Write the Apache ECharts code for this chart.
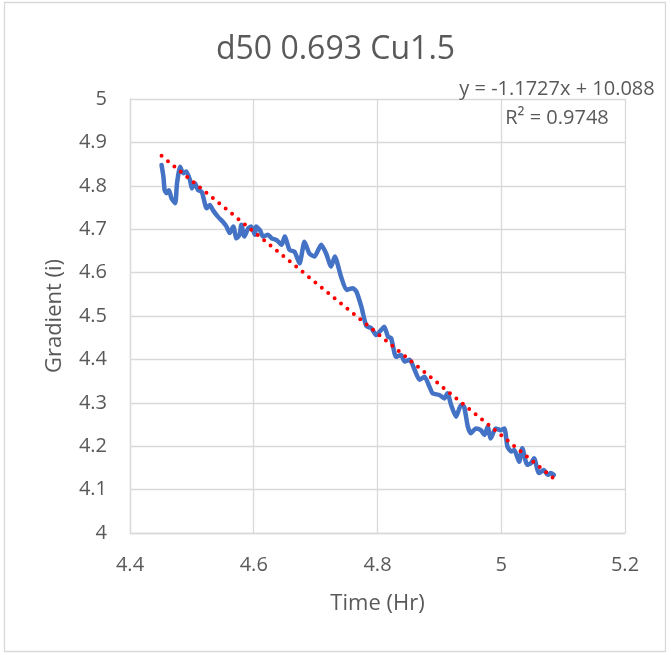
<!DOCTYPE html>
<html>
<head>
<meta charset="utf-8">
<script src="https://cdn.jsdelivr.net/npm/echarts@6/dist/echarts.min.js"></script>
<style>
html,body{margin:0;padding:0;background:#fff;}
#chart{width:671px;height:655px;}
</style>
</head>
<body>
<div id="chart"></div>
<script>
const chartTitle = 'd50 0.693 Cu1.5';
const xAxisTitle = 'Time (Hr)';
const yAxisTitle = 'Gradient (i)';
const equationText = 'y = -1.1727x + 10.088';
const r2Text = 'R² = 0.9748';

const timeHr = [
  4.451, 4.454, 4.456, 4.459, 4.463, 4.467, 4.473, 4.476, 4.481, 4.486,
  4.491, 4.497, 4.500, 4.505, 4.510, 4.516, 4.524, 4.529, 4.534, 4.542,
  4.550, 4.556, 4.561, 4.567, 4.572, 4.577, 4.580, 4.585, 4.591, 4.596,
  4.602, 4.604, 4.610, 4.615, 4.623, 4.629, 4.637, 4.645, 4.650, 4.658,
  4.666, 4.674, 4.682, 4.690, 4.698, 4.709, 4.717, 4.725, 4.731, 4.741,
  4.750, 4.760, 4.766, 4.774, 4.782, 4.790, 4.798, 4.806, 4.811, 4.817,
  4.822, 4.830, 4.838, 4.844, 4.852, 4.860, 4.868, 4.876, 4.884, 4.889,
  4.900, 4.908, 4.913, 4.919, 4.927, 4.935, 4.940, 4.946, 4.951, 4.959,
  4.967, 4.973, 4.978, 4.983, 4.991, 4.999, 5.005, 5.010, 5.016, 5.021,
  5.029, 5.034, 5.042, 5.048, 5.053, 5.061, 5.069, 5.075, 5.080, 5.085
];
const gradient = [
  4.848, 4.821, 4.790, 4.783, 4.790, 4.771, 4.760, 4.806, 4.844, 4.829,
  4.833, 4.813, 4.794, 4.806, 4.790, 4.786, 4.748, 4.756, 4.744, 4.729,
  4.717, 4.706, 4.691, 4.706, 4.679, 4.687, 4.710, 4.683, 4.702, 4.706,
  4.687, 4.706, 4.698, 4.683, 4.687, 4.679, 4.675, 4.664, 4.683, 4.652,
  4.648, 4.621, 4.671, 4.644, 4.637, 4.664, 4.644, 4.614, 4.637, 4.591,
  4.560, 4.564, 4.556, 4.521, 4.477, 4.472, 4.456, 4.468, 4.475, 4.452,
  4.449, 4.406, 4.410, 4.395, 4.399, 4.376, 4.353, 4.360, 4.337, 4.322,
  4.318, 4.310, 4.322, 4.295, 4.268, 4.295, 4.291, 4.245, 4.230, 4.241,
  4.237, 4.226, 4.245, 4.218, 4.241, 4.237, 4.241, 4.199, 4.188, 4.191,
  4.164, 4.195, 4.157, 4.161, 4.172, 4.138, 4.145, 4.134, 4.138, 4.134
];
const trendTime = [4.451, 5.087];
const trendGradient = [4.869, 4.123];

const FONT = "'Open Sans', 'Noto Sans', sans-serif";
const TXT = '#595959';
const GRID = '#D9D9D9';

const mainData = timeHr.map((t, i) => [t, gradient[i]]);
const trendData = trendTime.map((t, i) => [t, trendGradient[i]]);

const chart = echarts.init(document.getElementById('chart'), null, {renderer: 'canvas'});
chart.setOption({
  animation: false,
  backgroundColor: '#ffffff',
  title: {
    text: chartTitle,
    left: 'center',
    top: 29,
    textStyle: {fontFamily: FONT, fontSize: 32, fontWeight: 'normal', color: TXT}
  },
  grid: {left: 130, right: 46, top: 99, bottom: 122},
  xAxis: {
    type: 'value', min: 4.4, max: 5.2, interval: 0.2,
    name: xAxisTitle, nameLocation: 'middle', nameGap: 60,
    nameTextStyle: {fontFamily: FONT, fontSize: 22, color: TXT},
    axisLine: {show: true, lineStyle: {color: GRID, width: 1.3}},
    axisTick: {show: false},
    axisLabel: {margin: 22, fontFamily: FONT, fontSize: 20, color: TXT},
    splitLine: {show: true, lineStyle: {color: GRID, width: 1.3}}
  },
  yAxis: {
    type: 'value', min: 4, max: 5, interval: 0.1,
    name: yAxisTitle, nameLocation: 'middle', nameGap: 64,
    nameTextStyle: {fontFamily: FONT, fontSize: 22, color: TXT},
    axisLine: {show: true, lineStyle: {color: GRID, width: 1.3}},
    axisTick: {show: false},
    axisLabel: {margin: 23, fontFamily: FONT, fontSize: 20, color: TXT},
    splitLine: {show: true, lineStyle: {color: GRID, width: 1.3}}
  },
  graphic: [
    {type: 'rect', z: -10, silent: true,
     shape: {x: 4.5, y: 2.5, width: 661, height: 649},
     style: {fill: 'none', stroke: GRID, lineWidth: 1.3}},
    {type: 'text', z: 100, x: 557, y: 89,
     style: {text: equationText, fontFamily: FONT, fontSize: 20, fill: TXT, align: 'center', verticalAlign: 'middle'}},
    {type: 'text', z: 100, x: 557, y: 118,
     style: {text: r2Text, fontFamily: FONT, fontSize: 20, fill: TXT, align: 'center', verticalAlign: 'middle'}}
  ],
  series: [
    {
      type: 'line', data: mainData, showSymbol: false, smooth: 0.2,
      lineStyle: {color: '#4472C4', width: 4.5, cap: 'round', join: 'round'},
      z: 2
    },
    {
      type: 'line', data: trendData, showSymbol: false,
      lineStyle: {color: '#FF0000', width: 4, type: [0, 8.3], cap: 'round'},
      z: 3
    }
  ]
});
</script>
</body>
</html>
